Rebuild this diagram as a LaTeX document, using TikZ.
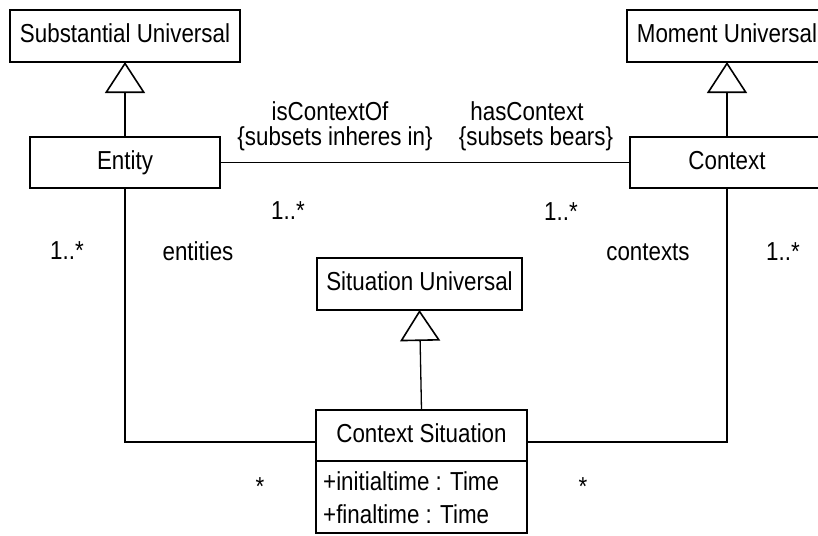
\documentclass[tikz,border=0pt]{standalone}
\usepackage{fontspec}
\setmainfont{Liberation Sans}[FakeStretch=0.86]
\usetikzlibrary{arrows.meta}
\begin{document}
\begin{tikzpicture}[x=1pt,y=-1pt,
  cls/.style={draw, line width=2pt, inner sep=0pt, outer sep=0pt,
    font=\fontsize{26}{30}\selectfont, text height=18.6pt, text depth=5.5pt},
  lbl/.style={inner sep=0pt, anchor=base, font=\fontsize{26}{30}\selectfont},
  assoc/.style={line width=1.3pt},
  gen/.style={line width=1.3pt,
    -{Triangle[open, length=31pt, width=40pt, line width=1.6pt]}}
]
\useasboundingbox (0,0) rectangle (818,535);

% classes
\node[cls, minimum width=230pt, minimum height=52pt] (subst) at (125,36) {Substantial Universal};
\node[cls, minimum width=200pt, minimum height=52pt] (moment) at (727,36) {Moment Universal};
\node[cls, minimum width=190pt, minimum height=51pt] (entity) at (125,162.5) {Entity};
\node[cls, minimum width=194pt, minimum height=51pt] (context) at (727,162.5) {Context};
\node[cls, minimum width=205pt, minimum height=52pt] (situ) at (419.5,284) {Situation Universal};
\node[cls, minimum width=211pt, minimum height=51pt] (cs) at (421.5,435.5) {Context Situation};
\node[draw, line width=2pt, inner sep=0pt, outer sep=0pt, minimum width=211pt,
  minimum height=72pt, anchor=north] (csattr) at (cs.south) {};
\node[lbl, anchor=base west] (attr1) at (323,490) {+initialtime : Time};
\node[lbl, anchor=base west] (attr2) at (323,523) {+finaltime : Time};

% generalizations
\draw[gen] (entity.north) -- (subst.south);
\draw[gen] (context.north) -- (moment.south);
\draw[gen] (cs.north) -- (situ.south);

% associations
\draw[assoc] (entity.east) -- (context.west);
\draw[assoc] (entity.south) |- ([yshift=-6.5pt]cs.west);
\draw[assoc] (context.south) |- ([yshift=-6.5pt]cs.east);

% association labels
\node[lbl] (isctx) at (330,120) {isContextOf};
\node[lbl] (subin) at (335,145) {\{subsets inheres in\}};
\node[lbl] (hasctx) at (527,120) {hasContext};
\node[lbl] (subbe) at (536,145) {\{subsets bears\}};
\node[lbl] (m1) at (288,219) {1..*};
\node[lbl] (m2) at (561,220) {1..*};
\node[lbl] (m3) at (67,259) {1..*};
\node[lbl] (ents) at (198,260) {entities};
\node[lbl] (ctxs) at (648,260) {contexts};
\node[lbl] (m4) at (783,260) {1..*};
\node[lbl] (m5) at (260,495) {*};
\node[lbl] (m6) at (583,495) {*};
\end{tikzpicture}
\end{document}
